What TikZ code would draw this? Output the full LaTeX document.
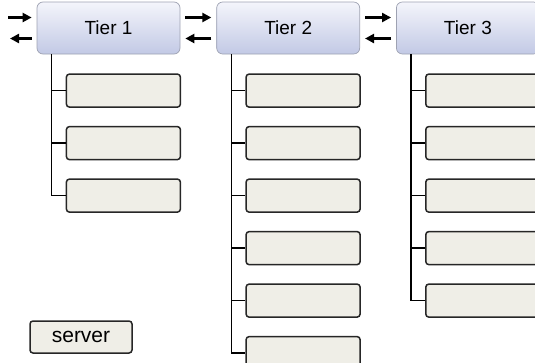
\documentclass[tikz,border=0pt]{standalone}
\usepackage{fontspec}
\setmainfont{Liberation Sans}
\usepackage{xcolor}
\usepackage{tikz}
\usetikzlibrary{arrows.meta, positioning}
\definecolor{tiertop}{HTML}{F4F5FB}
\definecolor{tierbot}{HTML}{C2C9E5}
\definecolor{tierline}{HTML}{9EA2B2}
\definecolor{unitfill}{HTML}{EFEEE7}
\tikzstyle{tier}  = [rectangle, rounded corners=6pt, minimum width=143pt,
                     minimum height=52pt, inner sep=0pt, text centered,
                     draw=tierline, line width=0.7pt, top color=tiertop,
                     bottom color=tierbot, font=\fontsize{19}{22}\selectfont]
\tikzstyle{unit}  = [rectangle, rounded corners=3pt, minimum width=114pt,
                     minimum height=33pt, inner sep=0pt, draw=black!85,
                     line width=1.5pt, fill=unitfill, font=\fontsize{21}{24}\selectfont]
\tikzstyle{trunk} = [line width=1.6pt, black]
\tikzstyle{arrow} = [line width=2.4pt, -{Triangle[length=9pt,width=9pt]},
                     shorten <=5pt, shorten >=5pt]

\begin{document}
\begin{tikzpicture}[x=1pt, y=1pt]
    \useasboundingbox (0,0) rectangle (535,-362);

    \node (t1) [tier] at (108.5,-28)   {Tier 1};
    \node (t2) [tier, right=36pt of t1] {Tier 2};
    \node (t3) [tier, right=36pt of t2] {Tier 3};

    % servers of tier 1
    \node (c11) [unit, below right=19pt and 29pt of t1.south west] {};
    \node (c12) [unit, below=18pt of c11] {};
    \node (c13) [unit, below=18pt of c12] {};

    % servers of tier 2
    \node (c21) [unit, below right=19pt and 29pt of t2.south west] {};
    \node (c22) [unit, below=18pt of c21] {};
    \node (c23) [unit, below=18pt of c22] {};
    \node (c24) [unit, below=18pt of c23] {};
    \node (c25) [unit, below=18pt of c24] {};
    \node (c26) [unit, below=18pt of c25] {};

    % servers of tier 3
    \node (c31) [unit, below right=19pt and 29pt of t3.south west] {};
    \node (c32) [unit, below=18pt of c31] {};
    \node (c33) [unit, below=18pt of c32] {};
    \node (c34) [unit, below=18pt of c33] {};
    \node (c35) [unit, below=18pt of c34] {};

    \node (srv) [unit, minimum width=102pt, minimum height=32pt] at (81,-337) {server};

    \draw [trunk] ([xshift=15pt]t1.south west) |- (c11.west);
    \draw [trunk] ([xshift=15pt]t1.south west) |- (c12.west);
    \draw [trunk] ([xshift=15pt]t1.south west) |- (c13.west);

    \draw [trunk] ([xshift=15pt]t2.south west) |- (c21.west);
    \draw [trunk] ([xshift=15pt]t2.south west) |- (c22.west);
    \draw [trunk] ([xshift=15pt]t2.south west) |- (c23.west);
    \draw [trunk] ([xshift=15pt]t2.south west) |- (c24.west);
    \draw [trunk] ([xshift=15pt]t2.south west) |- (c25.west);
    \draw [trunk] ([xshift=15pt]t2.south west) |- (c26.west);

    \draw [trunk] ([xshift=15pt]t3.south west) |- (c31.west);
    \draw [trunk] ([xshift=15pt]t3.south west) |- (c32.west);
    \draw [trunk] ([xshift=15pt]t3.south west) |- (c33.west);
    \draw [trunk] ([xshift=15pt]t3.south west) |- (c34.west);
    \draw [trunk] ([xshift=15pt]t3.south west) |- (c35.west);

    % requests in and replies out
    \coordinate (in)  at (3,-17.5);
    \coordinate (out) at (5,-38.5);
    \draw [arrow] (in) -- ([yshift=10.5pt]t1.west);
    \draw [arrow] ([yshift=-10.5pt]t1.west) -- (out);
    \draw [arrow] ([yshift=10.5pt]t1.east) -- ([yshift=10.5pt]t2.west);
    \draw [arrow] ([yshift=-10.5pt]t2.west) -- ([yshift=-10.5pt]t1.east);
    \draw [arrow] ([yshift=10.5pt]t2.east) -- ([yshift=10.5pt]t3.west);
    \draw [arrow] ([yshift=-10.5pt]t3.west) -- ([yshift=-10.5pt]t2.east);
\end{tikzpicture}
\end{document}
